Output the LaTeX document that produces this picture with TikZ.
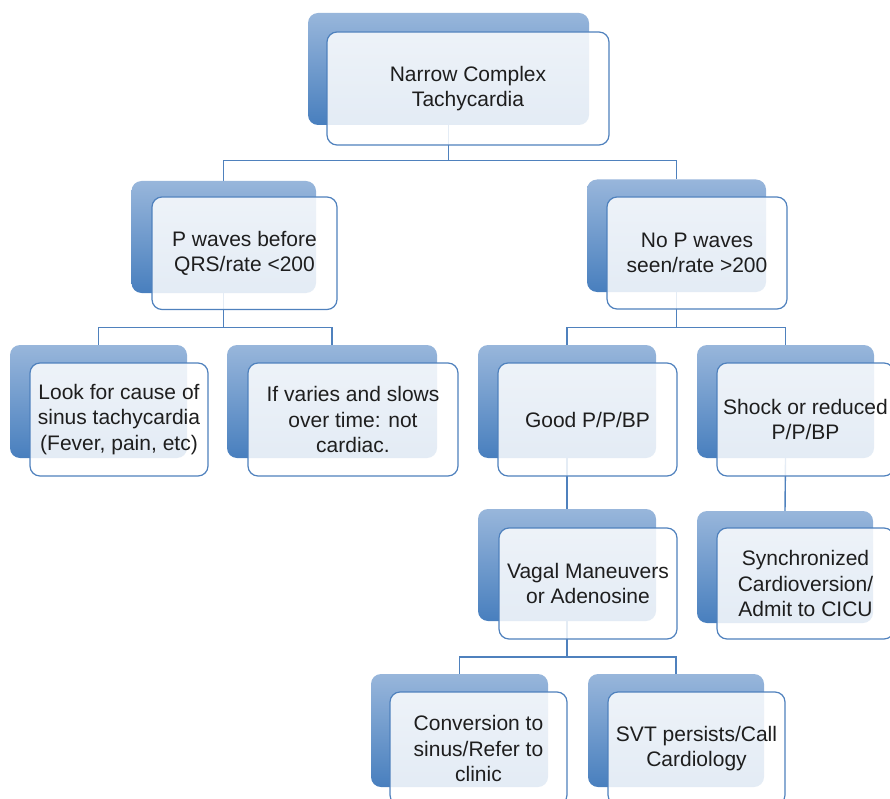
\documentclass[tikz,border=0pt]{standalone}
\usepackage{fontspec}
\setmainfont{Liberation Sans}
\usetikzlibrary{backgrounds}
\definecolor{lineblue}{RGB}{79,129,189}
\definecolor{shadetop}{RGB}{152,182,219}
\definecolor{shadebot}{RGB}{72,127,190}
\definecolor{txt}{RGB}{30,30,30}
\tikzset{
  backbox/.style={rounded corners=10pt, top color=shadetop, bottom color=shadebot, draw=none, inner sep=0pt},
  frontbox/.style={rounded corners=10pt, draw=lineblue, line width=1.2pt, fill=white, fill opacity=0.85, text opacity=1, text=txt, align=center, inner sep=0pt, font=\fontsize{21}{25.5}\selectfont},
  conn/.style={draw=lineblue, line width=1.4pt}
}
\begin{document}
\begin{tikzpicture}[x=1pt,y=-1pt]
\useasboundingbox (0,0) rectangle (890,799);
\clip (0,0) rectangle (890,799);
% level 1
\node[backbox, minimum width=281pt, minimum height=112pt] (topB) at (448.5,69) {};
\node[frontbox, minimum width=282pt, minimum height=113pt] (topF) at (468,88.5) {Narrow Complex\\Tachycardia};
% level 2
\node[backbox, minimum width=184.5pt, minimum height=112pt] (l2aB) at (223.75,237) {};
\node[frontbox, minimum width=185pt, minimum height=112.5pt] (l2aF) at (244.5,253.25) {P waves before\\QRS/rate <200};
\node[backbox, minimum width=179pt, minimum height=112.5pt] (l2bB) at (676.5,235.75) {};
\node[frontbox, minimum width=180pt, minimum height=112pt] (l2bF) at (697,253) {No P waves\\seen/rate >200};
% level 3
\node[backbox, minimum width=177pt, minimum height=113pt] (l3aB) at (98.5,401.5) {};
\node[frontbox, minimum width=178pt, minimum height=113pt] (l3aF) at (119,419.5) {Look for cause of\\sinus tachycardia\\(Fever, pain, etc)};
\node[backbox, minimum width=210pt, minimum height=113pt] (l3bB) at (332,401.5) {};
\node[frontbox, minimum width=210pt, minimum height=113pt] (l3bF) at (353,419.5) {If varies and slows\\over time: not\\cardiac.};
\node[backbox, minimum width=178pt, minimum height=113pt] (l3cB) at (567,401.5) {};
\node[frontbox, minimum width=179pt, minimum height=113pt] (l3cF) at (587.5,419.5) {Good P/P/BP};
\node[backbox, minimum width=177pt, minimum height=113pt] (l3dB) at (785.5,401.5) {};
\node[frontbox, minimum width=177pt, minimum height=113pt] (l3dF) at (805.5,419.5) {Shock or reduced\\P/P/BP};
% level 4
\node[backbox, minimum width=178pt, minimum height=112pt] (l4aB) at (567,565) {};
\node[frontbox, minimum width=178pt, minimum height=111pt] (l4aF) at (588,583.5) {Vagal Maneuvers\\or Adenosine};
\node[backbox, minimum width=176pt, minimum height=112pt] (l4bB) at (785,567) {};
\node[frontbox, minimum width=177pt, minimum height=111pt] (l4bF) at (805.5,583.5) {Synchronized\\Cardioversion/\\Admit to CICU};
% level 5
\node[backbox, minimum width=177pt, minimum height=113pt] (l5aB) at (459.5,730.5) {};
\node[frontbox, minimum width=177pt, minimum height=113pt] (l5aF) at (478.5,748.5) {Conversion to\\sinus/Refer to\\clinic};
\node[backbox, minimum width=176pt, minimum height=113pt] (l5bB) at (676,730.5) {};
\node[frontbox, minimum width=177pt, minimum height=113pt] (l5bF) at (696.5,748.5) {SVT persists/Call\\Cardiology};
% connectors
\begin{scope}[on background layer]
\coordinate (bus0) at (448.5,160.5);
\coordinate (bus1) at (223.75,327.5);
\coordinate (bus2) at (676.5,327.5);
\coordinate (bus3) at (567,657);
\draw[conn] (topB.south) -- (bus0);
\draw[conn] (l2aB.north) |- (bus0) -| (l2bB.north);
\draw[conn] (l2aB.south) -- (bus1);
\draw[conn] (l3aB.north) |- (bus1) -| (l3bB.north);
\draw[conn] (l2bB.south) -- (bus2);
\draw[conn] (l3cB.north) |- (bus2) -| (l3dB.north);
\draw[conn] (l3cB.south) -- (l4aB.north);
\draw[conn] (l3dB.south) -- (l4bB.north);
\draw[conn] (l4aB.south) -- (bus3);
\draw[conn] (l5aB.north) |- (bus3) -| (l5bB.north);
\end{scope}
\end{tikzpicture}
\end{document}
